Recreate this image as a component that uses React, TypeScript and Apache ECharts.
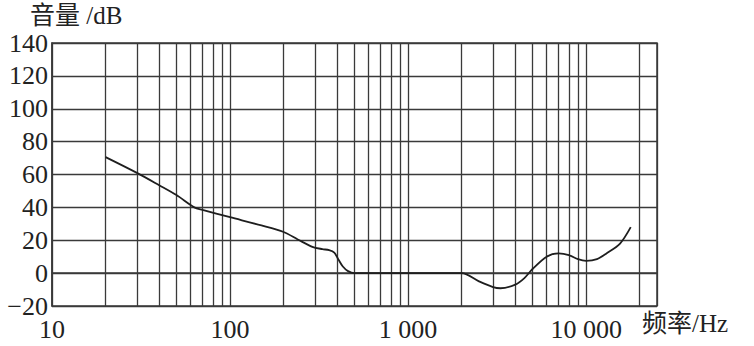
import React, { useEffect, useRef } from "react";
import * as echarts from "echarts";

// Frequency (Hz) and sound level (dB)
const freqs = [20, 30, 40, 50, 63, 70, 100, 150, 200, 240, 290, 330, 360, 385, 405, 430, 460, 500, 1000, 2000, 2500, 3000, 3300, 4000, 4500, 5000, 6000, 7000, 8000, 9000, 10000, 11500, 13000, 15500, 17800];
const levels = [70.6, 61, 53.5, 47.5, 40, 38.5, 34, 29, 25, 20.5, 16, 14.6, 14, 12.5, 8.5, 4, 1.2, 0, 0, 0, -5, -8.5, -9.2, -7, -3, 2.5, 10, 12, 11, 8.5, 7.5, 8.5, 12, 18, 28];

// Minor vertical grid lines of the log paper
const minorFreqs = [
  20, 30, 40, 50, 60, 70, 80, 90,
  200, 300, 400, 500, 600, 700, 800, 900,
  2000, 3000, 4000, 5000, 6000, 7000, 8000, 9000,
  20000,
];

const xMin = 10;
const xMax = 25000;
const yMin = -20;
const yMax = 140;
const yStep = 20;

const yTitle = "音量 /dB";
const xTitle = "频率/Hz";

const FONT = '"Liberation Serif", "Noto Sans CJK SC", serif';
const GRID_COLOR = "#3a3a3a";

function fmtX(v: number): string {
  const l = Math.log10(v);
  if (Math.abs(l - Math.round(l)) > 1e-6) return "";
  const s = String(Math.round(v));
  return s.replace(/\B(?=(\d{3})+(?!\d))/g, " ");
}

function fmtY(v: number): string {
  return v < 0 ? "\u2212" + Math.abs(v) : String(v);
}

export default function App() {
  const ref = useRef<HTMLDivElement>(null);
  useEffect(() => {
    if (!ref.current) return;
    const chart = echarts.init(ref.current, undefined, { renderer: "svg" });
    chart.setOption({
      animation: false,
      backgroundColor: "#ffffff",
      grid: {
        left: 52,
        right: 97,
        top: 43,
        bottom: 40,
        show: true,
        borderColor: GRID_COLOR,
        borderWidth: 1.5,
      },
      graphic: [
        {
          type: "text",
          left: 30,
          top: 3,
          style: { text: yTitle, font: `25px ${FONT}`, fill: "#222" },
        },
        {
          type: "text",
          left: 642,
          top: 311,
          style: { text: xTitle, font: `25px ${FONT}`, fill: "#222" },
        },
      ],
      xAxis: {
        type: "log",
        logBase: 10,
        min: xMin,
        max: xMax,
        axisLine: { show: true, lineStyle: { color: GRID_COLOR, width: 1.5 } },
        axisTick: { show: false },
        axisLabel: {
          formatter: fmtX,
          fontFamily: FONT,
          fontSize: 26,
          color: "#222",
          margin: 10,
          showMaxLabel: false,
        },
        splitLine: { show: true, lineStyle: { color: GRID_COLOR, width: 1.3 } },
        minorTick: { show: false },
      },
      yAxis: {
        type: "value",
        min: yMin,
        max: yMax,
        interval: yStep,
        axisLine: { show: true, lineStyle: { color: GRID_COLOR, width: 1.5 } },
        axisTick: { show: false },
        axisLabel: {
          formatter: fmtY,
          fontFamily: FONT,
          fontSize: 26,
          color: "#222",
          margin: 4,
        },
        splitLine: { show: true, lineStyle: { color: GRID_COLOR, width: 1.3 } },
      },
      series: [
        {
          type: "line",
          data: freqs.map((f, i) => [f, levels[i]]),
          showSymbol: false,
          smooth: 0.3,
          lineStyle: { color: "#1e1e1e", width: 1.8 },
          z: 3,
          markLine: {
            silent: true,
            symbol: ["none", "none"],
            label: { show: false },
            lineStyle: { type: "solid", color: GRID_COLOR, width: 1.3 },
            emphasis: { disabled: true },
            data: minorFreqs.map((f) => ({ xAxis: f })),
            z: 1,
          },
        },
      ],
    });
    return () => chart.dispose();
  }, []);
  return (
    <div
      ref={ref}
      style={{ position: "fixed", left: 0, top: 0, width: 754, height: 346 }}
    />
  );
}
